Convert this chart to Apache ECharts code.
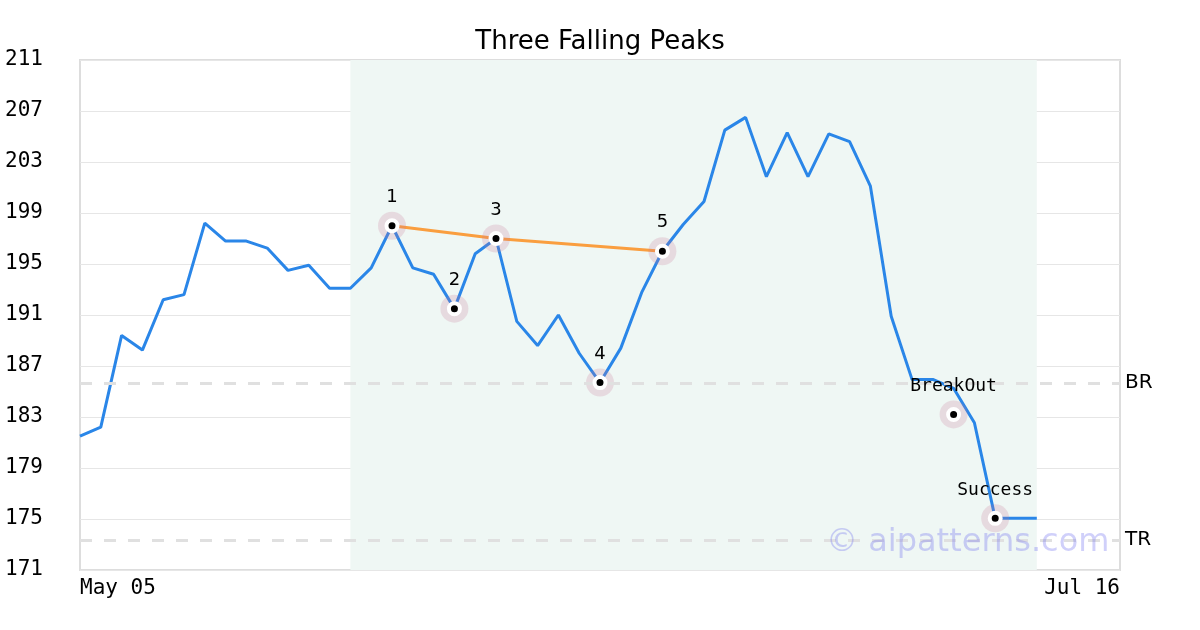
<!DOCTYPE html>
<html>
<head>
<meta charset="utf-8">
<script src="https://cdn.jsdelivr.net/npm/echarts@6/dist/echarts.min.js"></script>
<style>html,body{margin:0;padding:0;background:#fff}#c{width:1200px;height:630px}</style>
</head>
<body>
<div id="c"></div>
<script>
const dates = ['May 05','May 06','May 07','May 08','May 11','May 12','May 13','May 14','May 15','May 18','May 19','May 20','May 21','May 22','May 26','May 27','May 28','May 29',
  'Jun 01','Jun 02','Jun 03','Jun 04','Jun 05','Jun 08','Jun 09','Jun 10','Jun 11','Jun 12','Jun 15','Jun 16','Jun 17','Jun 18','Jun 19','Jun 22','Jun 23','Jun 24','Jun 25','Jun 26','Jun 29','Jun 30',
  'Jul 01','Jul 02','Jul 06','Jul 07','Jul 08','Jul 09','Jul 10','Jul 13','Jul 14','Jul 15','Jul 16'];
const prices = [181.5,182.2,189.4,188.25,192.2,192.6,198.2,196.8,196.8,196.25,194.5,194.9,193.1,193.1,194.7,198.0,194.7,194.2,191.5,195.8,197.0,190.5,188.6,191.0,188.0,185.7,188.4,192.75,196.0,198.1,199.9,205.5,206.5,201.85,205.3,201.85,205.2,204.6,201.1,190.9,185.95,185.95,185.25,182.55,175.05,175.05,175.05];
const yTicks = [171,175,179,183,187,191,195,199,203,207,211];
const markerIdx = [15,18,20,25,28,42,44];
const markerVal = [198.0,191.5,197.0,185.7,196.0,183.2,175.05];
const markerText = ['1','2','3','4','5','BreakOut','Success'];
const peakIdx = [15,20,28];
const peakVal = [198.0,197.0,196.0];
const levelBR = 185.65;
const levelTR = 173.35;
const shadeStart = 13, shadeEnd = 46;

const mono = 'DejaVu Sans Mono';
const sans = 'DejaVu Sans';

const markerData = markerIdx.map((i, k) => ({
  value: [dates[i], markerVal[k]],
  label: {
    show: true, formatter: markerText[k], position: 'top', distance: 12,
    fontFamily: k >= 5 ? mono : sans, fontSize: 18, color: '#000'
  }
}));

const chart = echarts.init(document.getElementById('c'), null, {renderer: 'canvas'});
chart.setOption({
  animation: false,
  title: {text: 'Three Falling Peaks', left: 'center', top: 24,
    textStyle: {fontFamily: sans, fontSize: 26, fontWeight: 'normal', color: '#000'}},
  grid: {left: 80, right: 80, top: 60, bottom: 60, show: true, borderColor: '#dddddd', borderWidth: 2, backgroundColor: '#fff'},
  xAxis: {
    type: 'category', data: dates, boundaryGap: false,
    axisLine: {show: false}, axisTick: {show: false}, splitLine: {show: false},
    axisLabel: {
      interval: (i) => i === 0 || i === dates.length - 1,
      fontFamily: mono, fontSize: 21, color: '#000', margin: 8,
      alignMinLabel: 'left', alignMaxLabel: 'right'
    }
  },
  yAxis: {
    type: 'value', min: 171, max: 211,
    axisLine: {show: false},
    axisTick: {show: false, customValues: yTicks},
    axisLabel: {customValues: yTicks, fontFamily: mono, fontSize: 21, color: '#000', align: 'left', margin: 75, lineHeight: 26, padding: [5, 0, 0, 0]},
    splitLine: {show: true, lineStyle: {color: '#e6e6e6', width: 1}}
  },
  graphic: [{
    type: 'text', left: 826, top: 527, z: 100,
    style: {text: '© aipatterns.com', font: '32px "DejaVu Sans"', fill: 'rgba(110,110,240,0.32)'}
  }],
  series: [
    {
      type: 'line', data: prices, symbol: 'none', z: 2,
      lineStyle: {color: '#2a86e8', width: 3},
      markArea: {silent: true, itemStyle: {color: '#eff7f4'},
        data: [[{xAxis: dates[shadeStart]}, {xAxis: dates[shadeEnd]}]]},
      markLine: {silent: true, symbol: 'none',
        lineStyle: {color: '#e0e0e0', type: [12, 12], width: 3},
        label: {position: 'end', distance: 5, fontFamily: sans, fontSize: 20, color: '#000', padding: [3, 0, 0, 0]},
        data: [{yAxis: levelBR, label: {formatter: 'BR'}}, {yAxis: levelTR, label: {formatter: 'TR'}}]}
    },
    {
      type: 'line', data: peakIdx.map((i, k) => [dates[i], peakVal[k]]), symbol: 'none', z: 3,
      lineStyle: {color: '#fa9e3f', width: 3}
    },
    {
      type: 'scatter', data: markerIdx.map((i, k) => [dates[i], markerVal[k]]), z: 4,
      symbolSize: 28, itemStyle: {color: 'rgba(200,120,150,0.22)', opacity: 1}, silent: true
    },
    {
      type: 'scatter', data: markerData, z: 5,
      symbolSize: 11, itemStyle: {color: '#000', borderColor: '#fff', borderWidth: 4, opacity: 1}, silent: true
    }
  ]
});
</script>
</body>
</html>
